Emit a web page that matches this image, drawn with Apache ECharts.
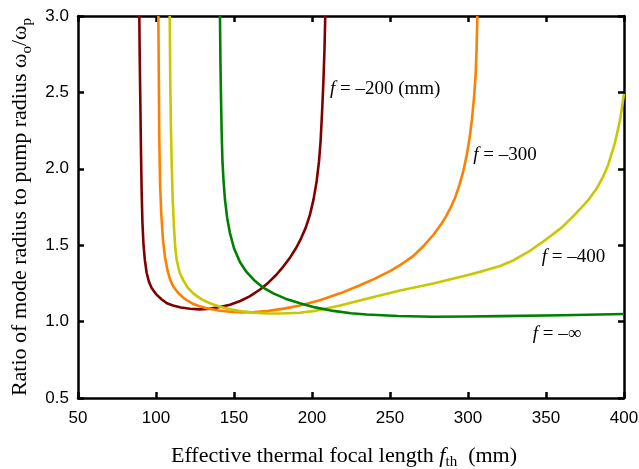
<!DOCTYPE html>
<html>
<head>
<meta charset="utf-8">
<script src="https://cdn.jsdelivr.net/npm/echarts@6/dist/echarts.min.js"></script>
<style>
  html, body { margin: 0; padding: 0; background: #fff; }
  #main { width: 639px; height: 469px; }
</style>
</head>
<body>
<div id="main"></div>
<script>
// f = -200 (mm)
var f200X = [89.3, 89.6, 90.0, 90.4, 90.8, 91.3, 92.0, 92.9, 94.0, 95.5, 97.2, 100, 103.7, 107, 110.9, 116, 121.8, 128, 135, 141, 147.4, 154, 160, 166.7, 172, 177, 181.6, 186, 190, 193, 196, 198.7, 201, 203, 204.5, 205.5, 206.5, 207.3, 208, 208.5];
var f200Y = [3.0, 2.7, 2.4, 2.1, 1.85, 1.65, 1.5, 1.4, 1.32, 1.26, 1.22, 1.18, 1.145, 1.12, 1.105, 1.092, 1.084, 1.08, 1.085, 1.095, 1.11, 1.135, 1.165, 1.21, 1.255, 1.305, 1.36, 1.42, 1.485, 1.545, 1.615, 1.70, 1.80, 1.92, 2.05, 2.18, 2.38, 2.57, 2.78, 3.0];
// f = -300
var f300X = [101.5, 101.8, 102.1, 102.6, 103.4, 104.5, 105.8, 107.5, 109.2, 111.1, 114, 116.8, 119.7, 124, 128, 132.5, 140, 147.4, 155, 163, 172, 182, 192.3, 205, 218, 230, 240, 250, 258, 265, 272, 278, 283, 286, 288.8, 291.7, 294.5, 297, 299.2, 301, 302.5, 303.8, 304.8, 305.5, 306];
var f300Y = [3.0, 2.6, 2.2, 1.9, 1.7, 1.53, 1.42, 1.33, 1.27, 1.23, 1.19, 1.163, 1.14, 1.115, 1.1, 1.087, 1.073, 1.064, 1.06, 1.062, 1.07, 1.085, 1.105, 1.14, 1.185, 1.235, 1.28, 1.33, 1.38, 1.43, 1.5, 1.57, 1.64, 1.69, 1.745, 1.81, 1.895, 1.985, 2.09, 2.2, 2.32, 2.46, 2.6, 2.78, 3.0];
// f = -400
var f400X = [108.8, 109.1, 109.5, 110, 110.7, 111.6, 112.4, 113.3, 115.2, 117.5, 120.5, 123.9, 129, 134.6, 141, 147.4, 155, 163, 171, 180, 192, 203, 218, 235, 255, 277.8, 300, 310, 320.5, 329, 340, 350.4, 360, 367.5, 374, 378.2, 383, 386.7, 390, 394.2, 397.5, 400];
var f400Y = [3.0, 2.6, 2.3, 2.06, 1.8, 1.6, 1.48, 1.40, 1.32, 1.27, 1.22, 1.185, 1.147, 1.12, 1.097, 1.08, 1.068, 1.059, 1.054, 1.053, 1.058, 1.072, 1.105, 1.15, 1.2, 1.25, 1.305, 1.332, 1.364, 1.40, 1.465, 1.54, 1.615, 1.69, 1.76, 1.81, 1.88, 1.95, 2.03, 2.17, 2.32, 2.49];
// f = -inf
var fInfX = [141, 141.3, 141.7, 142.1, 142.6, 143.3, 144.2, 145.6, 147.4, 150, 153.8, 158, 163.5, 169, 175.2, 183, 192.3, 202, 213.7, 225, 235, 255, 277.6, 300, 320.5, 360, 400];
var fInfY = [3.0, 2.7, 2.45, 2.23, 2.05, 1.92, 1.80, 1.68, 1.58, 1.48, 1.39, 1.325, 1.265, 1.22, 1.185, 1.15, 1.12, 1.093, 1.07, 1.055, 1.046, 1.037, 1.032, 1.033, 1.036, 1.042, 1.05];

var xTicks = [50, 400, 50];   // min, max, step
var yTicks = [0.5, 3.0, 0.5];

var seriesNames = ['f = -200', 'f = -300', 'f = -400', 'f = -inf'];
var seriesColors = ['#800000', '#ff8000', '#c8c800', '#008000'];
var curveLabels = ['200 (mm)', '300', '400', '∞'];

// where each curve label sits (data coords, left / middle)
var labelPos = [[211.5, 2.53], [303.4, 2.10], [347.2, 1.43], [341.5, 0.93]];

function zip(xs, ys) {
  var out = [];
  for (var i = 0; i < xs.length; i++) out.push([xs[i], ys[i]]);
  return out;
}

var serif = 'Liberation Serif';
var sans = 'Liberation Sans';

var chart = echarts.init(document.getElementById('main'));

var axisLine = {lineStyle: {color: '#000', width: 2.5}};
var axisTick = {inside: true, length: 6, lineStyle: {color: '#000', width: 2.5}};

var option = {
  animation: false,
  grid: {left: 78, right: 15, top: 16, bottom: 71, outerBoundsMode: 'none', containLabel: false},
  xAxis: [{
    type: 'value', min: xTicks[0], max: xTicks[1], interval: xTicks[2],
    axisLine: axisLine, axisTick: axisTick, splitLine: {show: false},
    axisLabel: {fontFamily: sans, fontSize: 17, color: '#000', margin: 12},
    name: '{a|Effective thermal focal length }{i|f}{s|th}{a|  (mm)}',
    nameLocation: 'middle', nameGap: 44,
    nameTextStyle: {
      padding: [0, 14, 0, 0],
      rich: {
        a: {fontFamily: serif, fontSize: 22, color: '#000', lineHeight: 28},
        i: {fontFamily: serif, fontStyle: 'italic', fontSize: 22, color: '#000', lineHeight: 28},
        s: {fontFamily: serif, fontSize: 15, color: '#000', lineHeight: 28, verticalAlign: 'bottom'}
      }
    }
  }, {
    type: 'value', position: 'top', min: xTicks[0], max: xTicks[1], interval: xTicks[2],
    axisLine: axisLine, axisTick: axisTick, splitLine: {show: false},
    axisLabel: {show: false}
  }],
  yAxis: [{
    type: 'value', min: yTicks[0], max: yTicks[1], interval: yTicks[2],
    axisLine: axisLine, axisTick: axisTick, splitLine: {show: false},
    axisLabel: {fontFamily: sans, fontSize: 17, color: '#000', margin: 9,
      formatter: function (v) { return v.toFixed(1); }},
    name: '{a|Ratio of mode radius to pump radius ω}{s|o}{a|/ω}{s|p}',
    nameLocation: 'middle', nameGap: 41, nameRotate: 90,
    nameTextStyle: {
      rich: {
        a: {fontFamily: serif, fontSize: 22, color: '#000', lineHeight: 28},
        s: {fontFamily: serif, fontSize: 15, color: '#000', lineHeight: 28, verticalAlign: 'bottom'}
      }
    }
  }, {
    type: 'value', position: 'right', min: yTicks[0], max: yTicks[1], interval: yTicks[2],
    axisLine: axisLine, axisTick: axisTick, splitLine: {show: false},
    axisLabel: {show: false}
  }],
  series: [
    zip(f200X, f200Y), zip(f300X, f300Y), zip(f400X, f400Y), zip(fInfX, fInfY)
  ].map(function (d, i) {
    return {
      name: seriesNames[i], type: 'line', data: d,
      xAxisIndex: 0, yAxisIndex: 0,
      showSymbol: false, smooth: false,
      lineStyle: {color: seriesColors[i], width: 2.6, join: 'round'}
    };
  })
};

chart.setOption(option);

// curve labels, placed from data coordinates
var graphics = labelPos.map(function (p, i) {
  var px = chart.convertToPixel({gridIndex: 0}, p);
  return {
    type: 'text', left: px[0], top: px[1] - 8,
    style: {
      text: '{i|f}{n| = –' + curveLabels[i] + '}',
      rich: {
        i: {fontFamily: serif, fontStyle: 'italic', fontSize: 19, fill: '#000'},
        n: {fontFamily: serif, fontSize: 19, fill: '#000'}
      }
    }
  };
});
chart.setOption({graphic: graphics});
</script>
</body>
</html>
